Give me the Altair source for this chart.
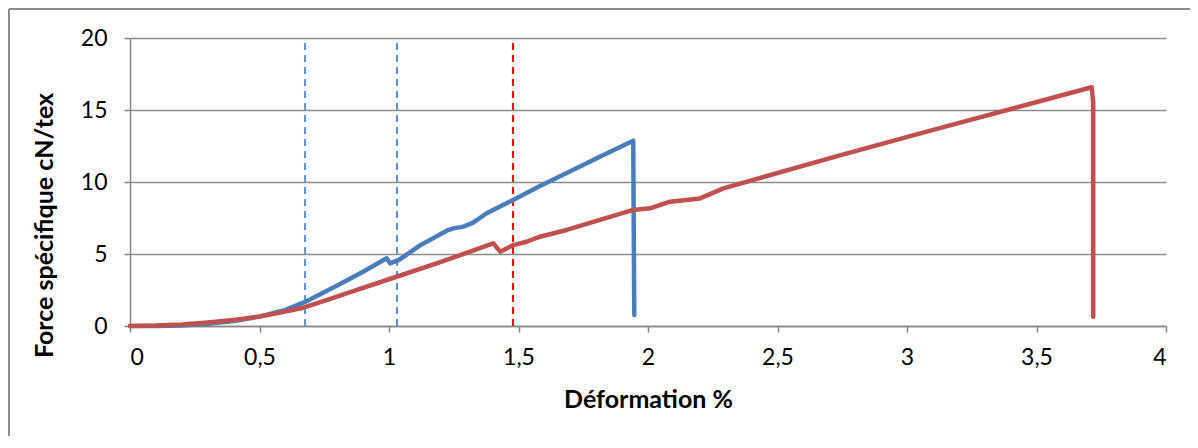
import altair as alt
import pandas as pd

# Blue curve (sample 1)
blue_x = [0, 0.1, 0.2, 0.3, 0.4, 0.5, 0.6, 0.676, 0.8, 0.9, 0.991, 1.004, 1.042, 1.12, 1.223, 1.248, 1.287, 1.325, 1.377, 1.479, 1.583, 1.7, 1.82, 1.943, 1.947]
blue_y = [0, 0.0, 0.03, 0.15, 0.35, 0.65, 1.12, 1.67, 2.82, 3.77, 4.70, 4.35, 4.63, 5.6, 6.62, 6.78, 6.9, 7.18, 7.83, 8.75, 9.72, 10.75, 11.8, 12.87, 0.76]

# Red curve (sample 2)
red_x = [0, 0.1, 0.2, 0.3, 0.4, 0.5, 0.58, 0.669, 0.75, 0.862, 1.029, 1.184, 1.313, 1.403, 1.429, 1.480, 1.531, 1.583, 1.686, 1.943, 2.008, 2.085, 2.201, 2.291, 2.741, 3.076, 3.713, 3.719, 3.719]
red_y = [0, 0.03, 0.1, 0.25, 0.42, 0.66, 0.93, 1.27, 1.74, 2.43, 3.42, 4.35, 5.16, 5.74, 5.16, 5.62, 5.85, 6.2, 6.67, 8.06, 8.17, 8.63, 8.86, 9.56, 11.85, 13.5, 16.58, 15.5, 0.65]

# Dashed reference lines
ref_x = [0.676, 1.031, 1.479]
ref_group = ["b", "b", "r"]

rows = []
for i, (x, y) in enumerate(zip(blue_x, blue_y)):
    rows.append({"x": x, "y": y, "s": "blue", "o": i})
for i, (x, y) in enumerate(zip(red_x, red_y)):
    rows.append({"x": x, "y": y, "s": "red", "o": i})
df = pd.DataFrame(rows)

ref_df = pd.DataFrame({"x": ref_x, "g": ref_group, "y0": [0] * 3, "y1": [20] * 3})

xscale = alt.Scale(domain=[0, 4], nice=False, zero=True)
yscale = alt.Scale(domain=[0, 20], nice=False)

FONT = "Lato"

xaxis = alt.Axis(
    title="Déformation %",
    values=[0, 0.5, 1, 1.5, 2, 2.5, 3, 3.5, 4],
    labelExpr="replace(format(datum.value, '~g'), '.', ',')",
    grid=False, domainColor="#868686", domainWidth=1.5,
    tickColor="#868686", tickWidth=1.5, tickSize=6,
    labelFontSize=23, labelColor="#000", labelPadding=14, labelFont=FONT,
    titleFontSize=25, titleFontWeight="bold", titleColor="#000", titleFont=FONT,
    titlePadding=18,
)
yaxis = alt.Axis(
    title="Force spécifique cN/tex",
    values=[0, 5, 10, 15, 20],
    grid=True, gridColor="#8c8c8c", gridWidth=1.5,
    domainColor="#868686", domainWidth=1.5,
    tickColor="#868686", tickWidth=1.5, tickSize=6,
    labelFontSize=23, labelColor="#000", labelPadding=17, labelFont=FONT,
    titleFontSize=25, titleFontWeight="bold", titleColor="#000", titleFont=FONT,
    titleX=-86, titleY=187, titleAngle=-90, titleAlign="center", titleBaseline="middle",
)

lines = alt.Chart(df).mark_line(strokeWidth=4.5, strokeCap="round", strokeJoin="round").encode(
    x=alt.X("x:Q", scale=xscale, axis=xaxis),
    y=alt.Y("y:Q", scale=yscale, axis=yaxis),
    color=alt.Color("s:N", scale=alt.Scale(domain=["blue", "red"], range=["#4a7ebb", "#c0504d"]), legend=None),
    detail="s:N",
    order="o:Q",
)

refs = alt.Chart(ref_df).mark_rule(strokeWidth=2, strokeDash=[7, 5]).encode(
    x="x:Q",
    y="y0:Q",
    y2="y1:Q",
    color=alt.Color("g:N", scale=alt.Scale(domain=["b", "r"], range=["#5b8fd6", "#ff0000"]), legend=None),
)

border_left = alt.Chart(pd.DataFrame({"a": [0]})).mark_rule(color="#8c8c8c", strokeWidth=2).encode(
    x=alt.value(-121), y=alt.value(-29), y2=alt.value(420)
)
border_top = alt.Chart(pd.DataFrame({"a": [0]})).mark_rule(color="#8c8c8c", strokeWidth=2).encode(
    x=alt.value(-121), x2=alt.value(1080), y=alt.value(-29)
)

chart = alt.layer(refs, lines, border_left, border_top).resolve_scale(color="independent").properties(
    width=1036, height=288,
    autosize=alt.AutoSizeParams(type="none"),
    padding={"left": 122, "top": 30, "right": 24, "bottom": 110},
).configure_view(stroke=None)

chart.save("out.html", embed_options={"renderer": "svg", "actions": False})
